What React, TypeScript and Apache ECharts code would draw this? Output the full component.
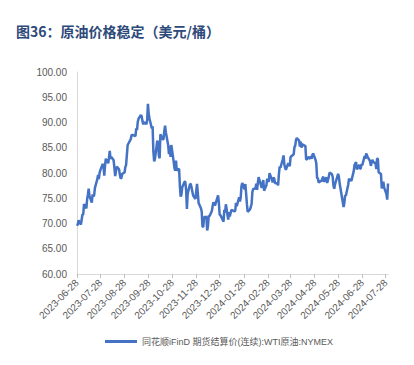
import React, { useEffect, useRef } from "react";
import * as echarts from "echarts";

const titleText = "图36：原油价格稳定（美元/桶）";
const seriesName = "同花顺iFinD 期货结算价(连续):WTI原油:NYMEX";

const axisMinDate = "2023-06-28";
const axisMaxDate = "2024-07-31";
const tickDates = [
  "2023-06-28", "2023-07-28", "2023-08-28", "2023-09-28", "2023-10-28", "2023-11-28", "2023-12-28",
  "2024-01-28", "2024-02-28", "2024-03-28", "2024-04-28", "2024-05-28", "2024-06-28", "2024-07-28",
];
const yMin = 60;
const yMax = 100;
const yStep = 5;

const dates = [
  "2023-06-28", "2023-06-29", "2023-06-30", "2023-07-03", "2023-07-05", "2023-07-06", "2023-07-07",
  "2023-07-10", "2023-07-11", "2023-07-12", "2023-07-13", "2023-07-14", "2023-07-17", "2023-07-18",
  "2023-07-19", "2023-07-20", "2023-07-21", "2023-07-24", "2023-07-25", "2023-07-26", "2023-07-27",
  "2023-07-28", "2023-07-31", "2023-08-01", "2023-08-02", "2023-08-03", "2023-08-04", "2023-08-07",
  "2023-08-08", "2023-08-09", "2023-08-10", "2023-08-11", "2023-08-14", "2023-08-15", "2023-08-16",
  "2023-08-17", "2023-08-18", "2023-08-21", "2023-08-22", "2023-08-23", "2023-08-24", "2023-08-25",
  "2023-08-28", "2023-08-29", "2023-08-30", "2023-08-31", "2023-09-01", "2023-09-05", "2023-09-06",
  "2023-09-07", "2023-09-08", "2023-09-11", "2023-09-12", "2023-09-13", "2023-09-14", "2023-09-15",
  "2023-09-18", "2023-09-19", "2023-09-20", "2023-09-21", "2023-09-22", "2023-09-25", "2023-09-26",
  "2023-09-27", "2023-09-28", "2023-09-29", "2023-10-02", "2023-10-03", "2023-10-04", "2023-10-05",
  "2023-10-06", "2023-10-09", "2023-10-10", "2023-10-11", "2023-10-12", "2023-10-13", "2023-10-16",
  "2023-10-17", "2023-10-18", "2023-10-19", "2023-10-20", "2023-10-23", "2023-10-24", "2023-10-25",
  "2023-10-26", "2023-10-27", "2023-10-30", "2023-10-31", "2023-11-01", "2023-11-02", "2023-11-03",
  "2023-11-06", "2023-11-07", "2023-11-08", "2023-11-09", "2023-11-10", "2023-11-13", "2023-11-14",
  "2023-11-15", "2023-11-16", "2023-11-17", "2023-11-20", "2023-11-21", "2023-11-22", "2023-11-24",
  "2023-11-27", "2023-11-28", "2023-11-29", "2023-11-30", "2023-12-01", "2023-12-04", "2023-12-05",
  "2023-12-06", "2023-12-07", "2023-12-08", "2023-12-11", "2023-12-12", "2023-12-13", "2023-12-14",
  "2023-12-15", "2023-12-18", "2023-12-19", "2023-12-20", "2023-12-21", "2023-12-22", "2023-12-26",
  "2023-12-27", "2023-12-28", "2023-12-29", "2024-01-02", "2024-01-03", "2024-01-04", "2024-01-05",
  "2024-01-08", "2024-01-09", "2024-01-10", "2024-01-11", "2024-01-12", "2024-01-16", "2024-01-17",
  "2024-01-18", "2024-01-19", "2024-01-22", "2024-01-23", "2024-01-24", "2024-01-25", "2024-01-26",
  "2024-01-29", "2024-01-30", "2024-01-31", "2024-02-01", "2024-02-02", "2024-02-05", "2024-02-06",
  "2024-02-07", "2024-02-08", "2024-02-09", "2024-02-12", "2024-02-13", "2024-02-14", "2024-02-15",
  "2024-02-16", "2024-02-20", "2024-02-21", "2024-02-22", "2024-02-23", "2024-02-26", "2024-02-27",
  "2024-02-28", "2024-02-29", "2024-03-01", "2024-03-04", "2024-03-05", "2024-03-06", "2024-03-07",
  "2024-03-08", "2024-03-11", "2024-03-12", "2024-03-13", "2024-03-14", "2024-03-15", "2024-03-18",
  "2024-03-19", "2024-03-20", "2024-03-21", "2024-03-22", "2024-03-25", "2024-03-26", "2024-03-27",
  "2024-03-28", "2024-04-01", "2024-04-02", "2024-04-03", "2024-04-04", "2024-04-05", "2024-04-08",
  "2024-04-09", "2024-04-10", "2024-04-11", "2024-04-12", "2024-04-15", "2024-04-16", "2024-04-17",
  "2024-04-18", "2024-04-19", "2024-04-22", "2024-04-23", "2024-04-24", "2024-04-25", "2024-04-26",
  "2024-04-29", "2024-04-30", "2024-05-01", "2024-05-02", "2024-05-03", "2024-05-06", "2024-05-07",
  "2024-05-08", "2024-05-09", "2024-05-10", "2024-05-13", "2024-05-14", "2024-05-15", "2024-05-16",
  "2024-05-17", "2024-05-20", "2024-05-21", "2024-05-22", "2024-05-23", "2024-05-24", "2024-05-28",
  "2024-05-29", "2024-05-30", "2024-05-31", "2024-06-03", "2024-06-04", "2024-06-05", "2024-06-06",
  "2024-06-07", "2024-06-10", "2024-06-11", "2024-06-12", "2024-06-13", "2024-06-14", "2024-06-17",
  "2024-06-18", "2024-06-20", "2024-06-21", "2024-06-24", "2024-06-25", "2024-06-26", "2024-06-27",
  "2024-06-28", "2024-07-01", "2024-07-02", "2024-07-03", "2024-07-05", "2024-07-08", "2024-07-09",
  "2024-07-10", "2024-07-11", "2024-07-12", "2024-07-15", "2024-07-16", "2024-07-17", "2024-07-18",
  "2024-07-19", "2024-07-22", "2024-07-23", "2024-07-24", "2024-07-25", "2024-07-26", "2024-07-29",
  "2024-07-30", "2024-07-31",
];

const prices = [
  69.56, 69.86, 70.64, 69.79, 71.79, 71.8, 73.86,
  72.99, 74.83, 75.75, 76.89, 75.42, 74.15, 75.75,
  75.35, 75.63, 77.07, 78.74, 79.63, 78.78, 80.09,
  80.58, 81.8, 81.37, 79.49, 81.55, 82.82, 81.94,
  82.92, 84.4, 82.82, 83.19, 82.51, 80.99, 79.38,
  80.39, 81.25, 80.72, 79.64, 78.89, 79.05, 79.83,
  80.1, 81.16, 81.63, 83.63, 85.55, 86.69, 87.54,
  87.51, 87.51, 87.29, 88.84, 88.52, 90.16, 90.77,
  91.48, 91.2, 90.28, 89.63, 90.03, 89.68, 90.39,
  93.68, 91.71, 90.79, 88.82, 89.23, 84.22, 82.31,
  82.79, 86.38, 85.97, 83.49, 82.91, 87.69, 86.66,
  86.66, 88.32, 89.37, 88.08, 85.49, 83.74, 85.39,
  83.21, 85.54, 82.31, 81.02, 80.44, 82.46, 80.51,
  80.82, 77.37, 75.33, 75.74, 77.17, 78.26, 78.26,
  76.66, 72.9, 75.89, 77.83, 77.77, 77.1, 75.54,
  74.86, 76.41, 77.86, 75.96, 74.07, 73.04, 72.32,
  69.38, 69.34, 71.23, 71.32, 68.61, 69.47, 71.58,
  71.43, 72.47, 73.44, 74.22, 73.89, 73.56, 75.57,
  74.11, 71.77, 71.65, 70.38, 72.7, 72.19, 73.81,
  70.77, 72.24, 71.37, 72.02, 72.68, 72.4, 72.56,
  74.08, 73.41, 75.19, 74.37, 75.09, 77.36, 78.01,
  76.78, 77.82, 75.85, 73.82, 72.28, 72.78, 73.31,
  73.86, 76.22, 76.84, 76.92, 77.87, 76.64, 78.03,
  79.19, 77.04, 77.91, 78.61, 76.49, 77.58, 78.87,
  78.54, 78.26, 79.97, 78.74, 78.15, 79.13, 78.93,
  78.01, 77.93, 77.56, 79.72, 81.26, 81.04, 82.72,
  83.47, 81.68, 81.07, 80.63, 81.95, 81.62, 81.35,
  83.17, 83.71, 85.15, 85.43, 86.59, 86.91, 86.43,
  85.23, 86.21, 85.02, 85.66, 85.41, 85.36, 82.69,
  82.73, 83.14, 82.85, 83.36, 82.81, 83.57, 83.85,
  82.63, 81.93, 79.0, 78.95, 78.11, 78.48, 78.38,
  78.99, 79.26, 78.26, 79.12, 78.02, 78.63, 79.23,
  80.06, 79.8, 79.26, 77.57, 76.87, 77.72, 79.83,
  79.23, 77.91, 76.99, 74.22, 73.25, 74.07, 75.55,
  75.53, 77.74, 78.9, 78.5, 78.62, 78.45, 80.33,
  81.57, 82.17, 80.73, 81.63, 80.83, 80.9, 81.74,
  81.54, 83.38, 82.81, 83.88, 83.16, 82.33, 81.41,
  82.1, 82.62, 82.21, 81.91, 80.76, 82.85, 82.82,
  80.13, 79.78, 76.96, 77.59, 78.28, 77.16, 75.81,
  74.73, 77.91,
];

function toTs(s: string): number {
  const [y, m, d] = s.split("-").map(Number);
  return new Date(y, m - 1, d).getTime();
}

function fmtDate(v: number): string {
  const d = new Date(v);
  const mm = String(d.getMonth() + 1).padStart(2, "0");
  const dd = String(d.getDate()).padStart(2, "0");
  return `${d.getFullYear()}-${mm}-${dd}`;
}

const FONT = 'Liberation Sans, Arial, "Noto Sans CJK SC", sans-serif';

export default function App() {
  const ref = useRef<HTMLDivElement>(null);

  useEffect(() => {
    document.body.style.margin = "0";
    if (!ref.current) return;
    const chart = echarts.init(ref.current, null, { renderer: "svg" });
    const ticks = tickDates.map(toTs);
    const data = dates.map((d, i) => [toTs(d), prices[i]]);
    chart.setOption({
      animation: false,
      backgroundColor: "#ffffff",
      textStyle: { fontFamily: FONT },
      title: {
        text: titleText,
        left: 16,
        top: 24,
        padding: 0,
        textStyle: {
          fontSize: 14,
          fontWeight: "bold",
          color: "#2E4A7A",
          fontFamily: '"Noto Sans CJK SC", sans-serif',
        },
      },
      legend: {
        show: true,
        left: 105,
        top: 337,
        padding: 0,
        icon: "rect",
        itemWidth: 32,
        itemHeight: 3,
        itemGap: 5,
        textStyle: { fontSize: 9, color: "#595959", fontFamily: FONT },
        data: [seriesName],
      },
      grid: { left: 77, right: 26, top: 72, bottom: 91, containLabel: false },
      xAxis: {
        type: "value",
        min: toTs(axisMinDate),
        max: toTs(axisMaxDate),
        splitLine: { show: false },
        axisLine: { show: true, lineStyle: { color: "#D9D9D9", width: 1 } },
        axisTick: {
          show: true,
          customValues: ticks,
          length: 4,
          lineStyle: { color: "#BFBFBF" },
        },
        axisLabel: {
          customValues: ticks,
          formatter: (v: number) => fmtDate(v),
          rotate: 45,
          fontSize: 10,
          color: "#595959",
          margin: 7,
          hideOverlap: false,
          showMinLabel: true,
          showMaxLabel: true,
        },
      },
      yAxis: {
        type: "value",
        min: yMin,
        max: yMax,
        interval: yStep,
        axisLine: { show: true, lineStyle: { color: "#D9D9D9", width: 1 } },
        axisTick: { show: false },
        splitLine: { show: false },
        axisLabel: {
          formatter: (v: number) => v.toFixed(2),
          fontSize: 10,
          color: "#595959",
          margin: 10,
        },
      },
      series: [
        {
          name: seriesName,
          type: "line",
          data,
          showSymbol: false,
          symbol: "none",
          lineStyle: { color: "#4472C4", width: 2.5 },
          itemStyle: { color: "#4472C4" },
        },
      ],
    });
    return () => chart.dispose();
  }, []);

  return <div ref={ref} style={{ width: 414, height: 365 }} />;
}
